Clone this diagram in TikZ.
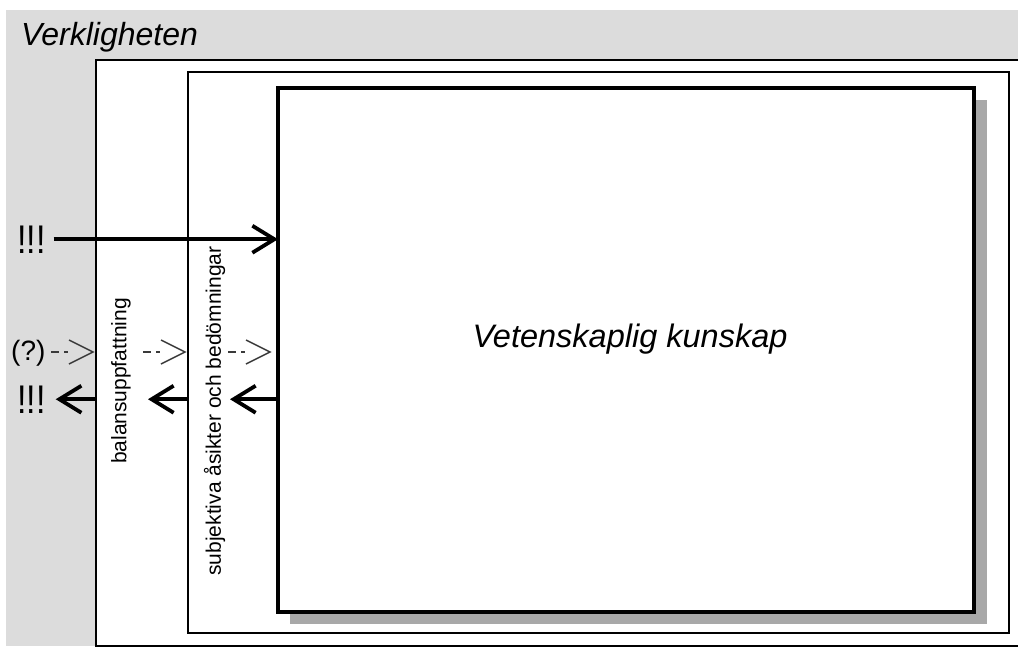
\documentclass[tikz,border=0pt]{standalone}
\usepackage{fontspec}
\setmainfont{Liberation Sans}
\usetikzlibrary{arrows.meta}
\definecolor{bggrey}{HTML}{DCDCDC}
\definecolor{shadowgrey}{HTML}{A8A8A8}
\definecolor{dashcol}{HTML}{3A3A3A}
\begin{document}
\begin{tikzpicture}[x=1pt,y=-1pt,
  box/.style={draw, fill=white, inner sep=0pt, outer sep=0pt, anchor=north west},
  thinbox/.style={box, line width=1.3pt},
  thickbox/.style={box, line width=4pt},
  bigarrow/.style={line width=3.8pt, -{Straight Barb[length=22pt,width=27pt]}},
  dasharrow/.style={dashcol, line width=1.5pt},
  bang/.style={inner sep=0pt, font=\fontsize{40}{44}\selectfont},
  vlabel/.style={rotate=90, inner sep=0pt, font=\fontsize{21}{24}\selectfont}]
\useasboundingbox (0,0) rectangle (1018,646);
\clip (0,0) rectangle (1018,646);
\fill[bggrey] (6,10) rectangle (1018,646);
\node[box, line width=1.4pt, minimum width=930pt, minimum height=586pt] (outer) at (96,60) {};
\node[thinbox, minimum width=821pt, minimum height=561pt] (middle) at (188,72) {};
\fill[shadowgrey] (290,100) rectangle (987,624);
\node[thickbox, minimum width=696pt, minimum height=524pt] (inner) at (278,88) {};
% titles
\node[anchor=base west, inner sep=0pt, font=\fontsize{32}{36}\selectfont\itshape] (real) at (21,45) {Verkligheten};
\node[anchor=base, inner sep=0pt, font=\fontsize{32.5}{36}\selectfont\itshape] (vk) at (630,347) {Vetenskaplig kunskap};
% vertical labels
\node[vlabel] (bal) at (121,381) {balansuppfattning};
\node[vlabel] (subj) at (214.5,411) {subjektiva åsikter och bedömningar};
% top arrow
\node[bang, anchor=base west] (bang1) at (17,253) {\scalebox{0.85}[1]{!!!}};
\draw[bigarrow] ([xshift=8pt]bang1.east) -- (inner.west |- bang1.east);
% bottom arrows
\node[bang, anchor=base west] (bang2) at (17,413) {\scalebox{0.85}[1]{!!!}};
\coordinate (b1) at ([xshift=10pt]bang2.east);
\coordinate (b2) at (148,0 |- b1);
\coordinate (b3) at (230,0 |- b1);
\draw[bigarrow] (outer.west |- b1) -- (b1);
\draw[bigarrow] (middle.west |- b1) -- (b2);
\draw[bigarrow] (inner.west |- b1) -- (b3);
% question and dashed arrows
\node[anchor=base west, inner sep=0pt, font=\fontsize{28}{32}\selectfont] (q) at (11,360) {(?)};
\foreach \s in {51,143,228}{
  \draw[dasharrow] (\s,352) -- ++(8,0);
  \draw[dasharrow] (\s+13,352) -- ++(4,0);
  \draw[dasharrow, line join=miter] (\s+18,340) -- (\s+42,352) -- (\s+18,364);
}
\end{tikzpicture}
\end{document}
